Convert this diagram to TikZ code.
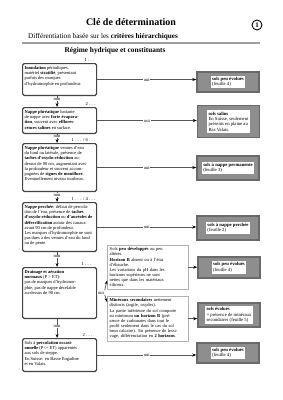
\documentclass[tikz,border=0pt]{standalone}
\usepackage{fontspec}
\setmainfont{Liberation Serif}
\usetikzlibrary{arrows.meta,calc}
\definecolor{bordc}{HTML}{444444}
\definecolor{linec}{HTML}{555555}
\definecolor{rfill}{HTML}{8E8E8E}
\definecolor{rbord}{HTML}{6A6A6A}
\newcommand\tf{\fontsize{4.5}{5.1}\selectfont}
\newcommand\rf{\fontsize{4.7}{5.3}\selectfont}
\newcommand\lf{\fontsize{4.6}{5}\selectfont}
\newcommand\lbt[2]{\parbox[c][#1pt][t]{70pt}{\tf\raggedright #2}}
\tikzset{
 lbox/.style={draw=bordc, line width=1.2pt, rounded corners=1.5pt, fill=white, inner xsep=2pt, inner ysep=3pt, anchor=north west},
 mbox/.style={draw=gray!60, line width=0.5pt, fill=white, inner sep=2.5pt, anchor=north west, text width=75.5pt, align=left, font=\tf},
 rbox/.style={draw=rbord, fill=rfill, line width=1.4pt, minimum width=62pt, inner sep=0pt},
 rin/.style={fill=white, inner sep=1.5pt, align=left, font=\rf},
 conn/.style={draw=linec, line width=0.7pt, -{Stealth[length=4pt,width=3pt,color=black]}},
 lbl/.style={fill=white, inner sep=0.6pt, font=\lf},
 lvl/.style={inner sep=0.5pt, font=\lf, anchor=south east},
}
\begin{document}
\begin{tikzpicture}[x=1pt,y=-1pt]
\useasboundingbox (0,0) rectangle (283,400);
% header
\node[font=\fontsize{10}{12}\selectfont\bfseries] (title) at (131,22) {Clé de détermination};
\node[draw, circle, line width=0.9pt, minimum size=10pt, inner sep=0pt, font=\fontsize{7}{8}\selectfont\bfseries] (num) at (257,25) {1};
\node[anchor=base west, inner sep=0pt, font=\fontsize{7.2}{8}\selectfont] (sub) at (28,38) {Différentiation basée sur les \textbf{critères hiérarchiques}};
\coordinate (rl) at (22,43); \coordinate (rr) at (260,43);
\draw[gray!75, line width=1.5pt] (rl) -- (rr);
\node[font=\fontsize{7.3}{8}\selectfont\bfseries] (reg) at (115,51) {Régime hydrique et constituants};

% left boxes
\node[lbox] (b1) at (22,63) {\lbt{25.8}{\textbf{Inondation} périodiques,\\ matériel \textbf{stratifié}, présentant\\ parfois des marques\\ d'hydromorphie en profondeur.}};
\node[lbox] (b2) at (22,107) {\lbt{19.8}{\textbf{Nappe phréatique} battante\\ de nappe avec \textbf{forte évapora-}\\ \textbf{tion}, souvent avec \textbf{efflores-}\\ \textbf{cences salines} en surface.}};
\node[lbox] (b3) at (22,143) {\lbt{41.8}{\textbf{Nappe phréatique} venues d'eau\\ du fond ou latérale, présence de\\ \textbf{taches d'oxydo-réduction} au-\\ dessus de 90 cm, augmentant avec\\ la profondeur et souvent accom-\\ pagnées de \textbf{signes de mouillure}.\\ Eventuellement niveau tourbeux.}};
\node[lbox] (b4) at (22,202) {\lbt{42.8}{\mbox{\textbf{Nappe perchée}: défaut de percola-}\\ \mbox{tion de l'eau, présence de \textbf{taches}}\\ \mbox{\textbf{d'oxydo-réduction} ou \textbf{d'auréoles de}}\\ \mbox{\textbf{déferrification} autour des canaux}\\ avant 90 cm de profondeur.\\ \mbox{Les marques d'hydromorphie ne sont}\\ \mbox{pas dues à des venues d'eau du fond}\\ ou de pente.}};
\node[lbox] (b5) at (22,267) {\lbt{44.8}{\textbf{Drainage et aération}\\ \textbf{normaux} (P > ET):\\ pas de marques d'hydromor-\\ phie, pas de nappe décelable\\ au-dessus de 90 cm.}};
\node[lbox] (b6) at (22,338) {\lbt{26.8}{Sols à \textbf{percolation occasi-}\\ \textbf{onnelle} (P<= ET) apparentés\\ aux sols de steppe.\\ En Suisse: en Basse Engadine\\ et en Valais.}};

% level labels
\node[lvl] (l1) at ([xshift=-2pt,yshift=1pt]b1.north east) {1 . . .};
\node[lvl] (l2) at ([xshift=-1pt,yshift=1pt]b2.north east) {2 . . .};
\node[lvl] (l3) at ([xshift=-1pt,yshift=1pt]b3.north east) {1 . . . / 6 . . .};
\node[lvl] (l4) at ([xshift=-1pt,yshift=1pt]b4.north east) {1 . . . / 4 . . .};
\node[lvl] (l5) at ([xshift=-5pt,yshift=1pt]b5.north east) {1 . . .};
\node[lvl] (l6) at ([xshift=-4pt,yshift=1pt]b6.north east) {2 . . .};

% middle boxes
\node[mbox] (m1) at (107,245) {\mbox{Sols \textbf{peu développés} ou peu}\\ altérés.\\ \textbf{Horizon B} absent ou à l'état\\ d'ébauche.\\ Les variations du pH dans les\\ horizons supérieurs ne sont\\ nettes que dans les matériaux\\ siliceux.};
\node[mbox] (m2) at (107,296) {\mbox{\textbf{Minéraux secondaires} nettement}\\ distincts (argile, oxydes).\\ \mbox{La partie inférieure du sol comporte}\\ \mbox{au minimum \textbf{un horizon B} (pré-}\\ \mbox{sence de carbonates dans tout le}\\ \mbox{profil seulement dans le cas du sol}\\ \mbox{brun calcaire). En présence de lessi-}\\ \mbox{vage, différenciation en \textbf{2 horizons}.}};

% right boxes
\node[rbox, minimum height=20pt] (r1) at (228,82) {};
\node[rin] (r1t) at (r1.center) {\textbf{sols peu évolués}\\(feuille 4)};
\node[rbox, minimum height=32pt] (r2) at (228.5,121.5) {};
\node[rin] (r2t) at (r2.center) {\textbf{sols salins}\\En Suisse, seulement\\présents en plaine au\\Bas Valais.};
\node[rbox, minimum height=24pt] (r3) at (228,168) {};
\node[rin] (r3t) at (r3.center) {\textbf{sols à nappe permanente}\\(feuille 3)};
\node[rbox, minimum height=24pt] (r4) at (228,228) {};
\node[rin] (r4t) at (r4.center) {\textbf{sols à nappe perchée}\\(feuille 2)};
\node[rbox, minimum height=21pt] (r5) at (229,267.5) {};
\node[rin] (r5t) at (r5.center) {\textbf{sols peu évolués}\\(feuille 4)};
\node[rbox, minimum height=24pt] (r6) at (229,315) {};
\node[rin] (r6t) at (r6.center) {\textbf{sols évolués}\\= présence de minéraux\\secondaires (feuille 5)};
\node[rbox, minimum height=20pt] (r7) at (228,353) {};
\node[rin] (r7t) at (r7.center) {\textbf{sols peu évolués}\\(feuille 4)};

% oui connectors
\draw[conn] (b1.east) -- node[lbl]{oui} (b1.east -| r1.west);
\draw[conn] (b2.east) -- node[lbl]{oui} (b2.east -| r2.west);
\draw[conn] (b3.east) -- node[lbl]{oui} (b3.east -| r3.west);
\draw[conn] (b4.east) -- node[lbl]{oui} (b4.east -| r4.west);
\draw[conn] (b6.east) -- node[lbl]{oui} (b6.east -| r7.west);
\draw[conn] (m1.east) -- (m1.east -| r5.west);
\draw[conn] (m2.east) -- (m2.east -| r6.west);

% box 5 junction
\draw[draw=linec, line width=0.7pt] (b5.east) -- (b5.east -| 101,0);
\node[lbl] (j5) at (101,292.5) {oui};
\draw[conn] (j5.north east) -- ($(m1.south west)+(0,-9)$);
\draw[conn] (j5.south east) -- ($(m2.north west)+(0,6)$);

% non connectors
\draw[conn] ([xshift=-2.5pt]b1.south) -- node[lbl,pos=0.3]{non} ([xshift=-2.5pt]b2.north);
\draw[conn] ([xshift=-2.5pt]b2.south) -- node[lbl,pos=0.3]{non} ([xshift=-2.5pt]b3.north);
\draw[conn] ([xshift=-2.5pt]b3.south) -- node[lbl,pos=0.3]{non} ([xshift=-2.5pt]b4.north);
\draw[conn] ([xshift=-2.5pt]b4.south) -- node[lbl,pos=0.3]{non} ([xshift=-2.5pt]b5.north);
\draw[conn] ([xshift=-2.5pt]b5.south) -- node[lbl,pos=0.4]{non} ([xshift=-2.5pt]b6.north);
\end{tikzpicture}
\end{document}
